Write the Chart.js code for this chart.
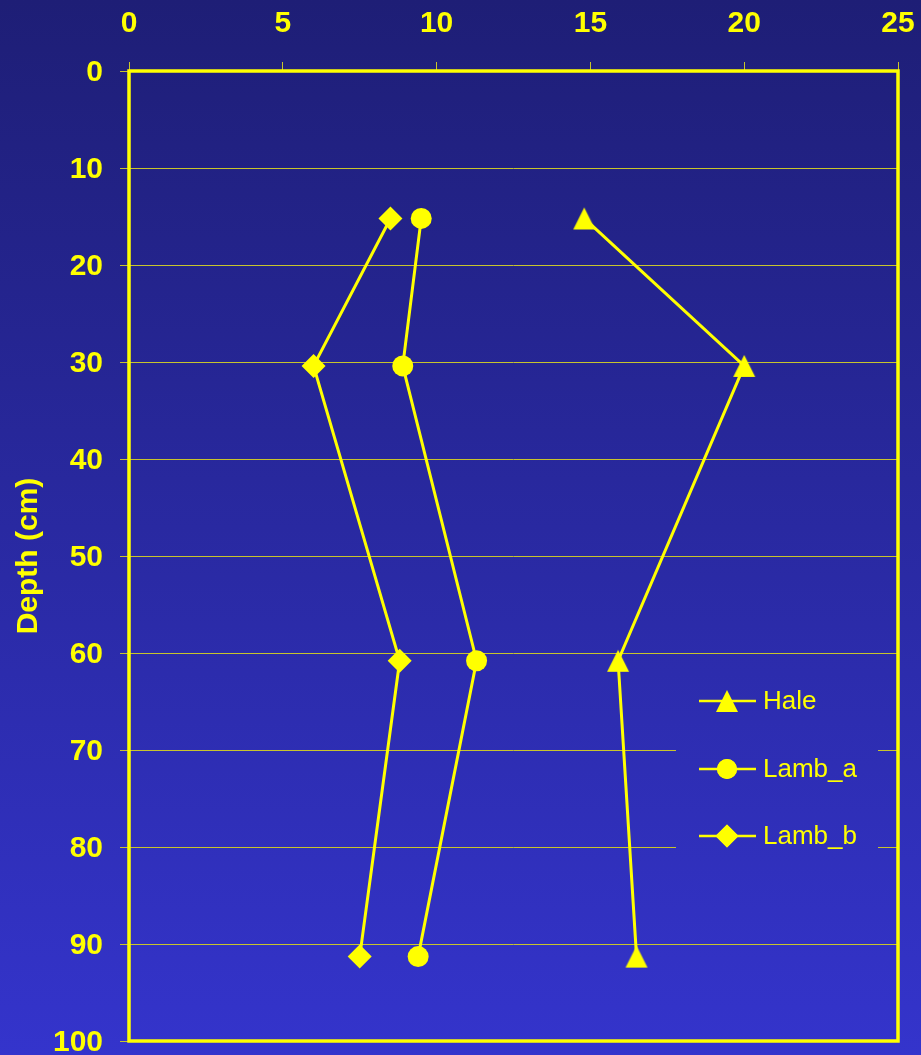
<!DOCTYPE html>
<html>
<head>
<meta charset="utf-8">
<title>Depth profile</title>
<script src="https://cdn.jsdelivr.net/npm/chart.js@4.4.1/dist/chart.umd.min.js"></script>
<style>
  html, body { margin: 0; padding: 0; background: #1e1e76; }
  #wrap { width: 921px; height: 1055px; position: relative; }
</style>
</head>
<body>
<div id="wrap"><canvas id="chart" width="921" height="1055"></canvas></div>
<script>
// Data
const depths = [15.2, 30.4, 60.8, 91.3];
const seriesNames = ['Hale', 'Lamb_a', 'Lamb_b'];
const hale = [14.8, 20.0, 15.9, 16.5];
const lambA = [9.5, 8.9, 11.3, 9.4];
const lambB = [8.5, 6.0, 8.8, 7.5];

const YELLOW = '#ffff00';
const GRID = '#c8c42c';
const FONT = '"Liberation Sans", Arial, sans-serif';

// triangle marker centred on its bounding box
function triangleMarker() {
  const c = document.createElement('canvas');
  c.width = 26; c.height = 26;
  const g = c.getContext('2d');
  g.fillStyle = YELLOW;
  g.beginPath();
  g.moveTo(13, 2);
  g.lineTo(24, 24);
  g.lineTo(2, 24);
  g.closePath();
  g.fill();
  return c;
}

const markers = [
  { style: triangleMarker(), radius: 13 },
  { style: 'circle', radius: 10.5 },
  { style: 'rectRot', radius: 12 }
];

function toPoints(xs) {
  return xs.map((x, i) => ({ x: x, y: depths[i] }));
}

function bgGradient(ctx, h) {
  const g = ctx.createLinearGradient(0, 0, 0, h);
  g.addColorStop(0, '#1e1e76');
  g.addColorStop(1, '#3434cc');
  return g;
}

// --- background, legend and frame ---
const decor = {
  id: 'decor',
  beforeDraw(chart) {
    const ctx = chart.ctx;
    ctx.save();
    ctx.fillStyle = bgGradient(ctx, chart.height);
    ctx.fillRect(0, 0, chart.width, chart.height);
    ctx.restore();
  },
  afterDatasetsDraw(chart) {
    const ctx = chart.ctx;
    const a = chart.chartArea;

    // legend (box hides the grid lines behind it)
    const bx = 676, by = 668, bw = 202, bh = 198;
    ctx.save();
    ctx.fillStyle = bgGradient(ctx, chart.height);
    ctx.fillRect(bx, by, bw, bh);
    const rows = [701, 769, 836];
    seriesNames.forEach((name, i) => {
      const y = rows[i];
      ctx.strokeStyle = YELLOW;
      ctx.lineWidth = 2.5;
      ctx.beginPath();
      ctx.moveTo(699, y);
      ctx.lineTo(756, y);
      ctx.stroke();
      ctx.fillStyle = YELLOW;
      Chart.helpers.drawPoint(ctx, {
        pointStyle: markers[i].style,
        radius: i === 0 ? 11 : markers[i].radius - 0.5,
        rotation: 0,
        borderWidth: 0
      }, 727, y);
      ctx.fill();
      ctx.font = '26px ' + FONT;
      ctx.textAlign = 'left';
      ctx.textBaseline = 'middle';
      ctx.fillText(name, 763, y + 1);
    });
    ctx.restore();

    // plot frame
    ctx.save();
    ctx.strokeStyle = YELLOW;
    ctx.lineWidth = 3.5;
    ctx.strokeRect(a.left, a.top, a.right - a.left, a.bottom - a.top);
    ctx.restore();
  }
};

const datasets = [hale, lambA, lambB].map((vals, i) => ({
  label: seriesNames[i],
  data: toPoints(vals),
  showLine: true,
  borderColor: YELLOW,
  backgroundColor: YELLOW,
  borderWidth: 3,
  pointStyle: markers[i].style,
  pointRadius: markers[i].radius,
  pointBorderWidth: 0,
  pointBackgroundColor: YELLOW
}));

const tickFont = { family: FONT, size: 30, weight: 'bold', lineHeight: 0.8 };

new Chart(document.getElementById('chart'), {
  type: 'scatter',
  data: { datasets: datasets },
  plugins: [decor],
  options: {
    responsive: false,
    animation: false,
    layout: { autoPadding: false, padding: { left: 0, top: 0, right: 23, bottom: 14 } },
    plugins: { legend: { display: false }, tooltip: { enabled: false } },
    scales: {
      x: {
        type: 'linear',
        position: 'top',
        min: 0, max: 25,
        ticks: {
          stepSize: 5,
          color: YELLOW,
          padding: 26,
          font: tickFont
        },
        grid: { drawOnChartArea: false, drawTicks: true, tickLength: 9, color: GRID },
        border: { display: false },
        afterFit(s) { s.height = 71; s.paddingLeft = 0; s.paddingRight = 0; }
      },
      y: {
        type: 'linear',
        reverse: true,
        min: 0, max: 100,
        ticks: {
          stepSize: 10,
          color: YELLOW,
          padding: 17,
          labelOffset: 2,
          font: tickFont
        },
        grid: { color: GRID, tickLength: 9, lineWidth: 1 },
        border: { display: false },
        title: {
          display: true,
          text: 'Depth (cm)',
          color: YELLOW,
          padding: { top: 11, bottom: 0 },
          font: { family: FONT, size: 30, weight: 'bold' }
        },
        afterFit(s) { s.width = 129; s.paddingTop = 0; s.paddingBottom = 0; }
      }
    }
  }
});
</script>
</body>
</html>
